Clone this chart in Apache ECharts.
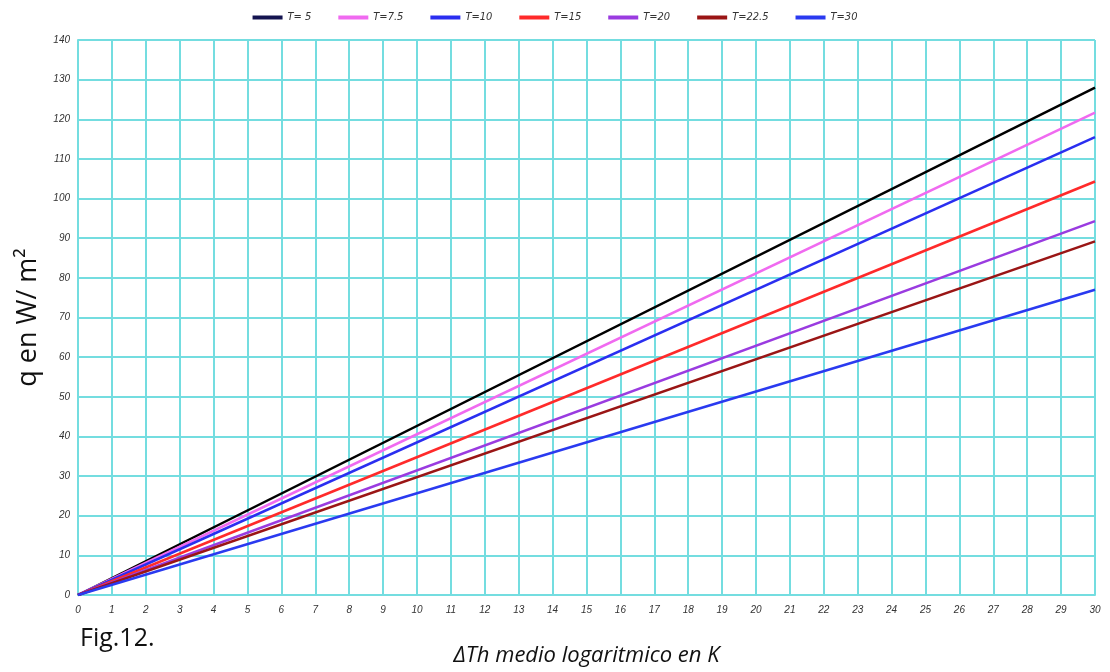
<!DOCTYPE html>
<html>
<head>
<meta charset="utf-8">
<script src="https://cdn.jsdelivr.net/npm/echarts@6/dist/echarts.min.js"></script>
<style>
  html, body { margin: 0; padding: 0; background: #fff; }
  #chart { width: 1110px; height: 672px; }
</style>
</head>
<body>
<div id="chart"></div>
<script>
// data: q at dT = 0 and dT = 30
const seriesNames = ['T= 5', 'T=7.5', 'T=10', 'T=15', 'T=20', 'T=22.5', 'T=30']
const xStart = [0, 0, 0, 0, 0, 0, 0]
const qStart = [0, 0, 0, 0, 0, 0, 0]
const xEnd = [30, 30, 30, 30, 30, 30, 30]
const qEnd = [128, 121.7, 115.5, 104.3, 94.3, 89.2, 77]
const lineColors = ['#000000', '#f06af0', '#2a2ef0', '#ff2a2a', '#9a3be0', '#9a1515', '#2a3af0']
const legendColors = ['#141450', '#f06af0', '#2a2ef0', '#ff2a2a', '#9a3be0', '#9a1515', '#2a3af0']

const gridColor = '#74dde0'

let chart = echarts.init(document.getElementById('chart'))

let series = seriesNames.map((name, i) => ({
    name: name,
    type: 'line',
    showSymbol: false,
    silent: true,
    data: [[xStart[i], qStart[i]], [xEnd[i], qEnd[i]]],
    lineStyle: { color: lineColors[i], width: 2.5 },
    itemStyle: { color: legendColors[i] }
}))

let option = {
    animation: false,
    backgroundColor: '#fff',
    legend: {
        top: 7,
        left: 'center',
        icon: 'rect',
        itemWidth: 30,
        itemHeight: 4,
        itemGap: 27,
        textStyle: { fontSize: 11, fontStyle: 'italic', color: '#333', fontFamily: 'DejaVu Sans Condensed, DejaVu Sans' },
        data: seriesNames
    },
    grid: {
        left: 78,
        right: 15,
        top: 40,
        bottom: 77
    },
    xAxis: {
        type: 'value',
        min: 0,
        max: 30,
        interval: 1,
        name: 'ΔTh medio logaritmico en K',
        nameLocation: 'middle',
        nameGap: 50,
        nameTextStyle: { fontSize: 22, fontStyle: 'italic', color: '#111', fontFamily: 'Open Sans' },
        axisLine: { show: true, lineStyle: { color: gridColor, width: 2 } },
        axisTick: { show: false },
        axisLabel: { fontSize: 10, fontStyle: 'italic', color: '#333', margin: 10 },
        splitLine: { show: true, lineStyle: { color: gridColor, width: 2 } }
    },
    yAxis: {
        type: 'value',
        min: 0,
        max: 140,
        interval: 10,
        name: 'q en W/ m²',
        nameLocation: 'middle',
        nameRotate: 90,
        nameGap: 36,
        nameTextStyle: { fontSize: 27, color: '#111', fontFamily: 'Open Sans' },
        axisLine: { show: true, lineStyle: { color: gridColor, width: 2 } },
        axisTick: { show: false },
        axisLabel: { fontSize: 10, fontStyle: 'italic', color: '#333', margin: 8 },
        splitLine: { show: true, lineStyle: { color: gridColor, width: 2 } }
    },
    graphic: [{
        type: 'text',
        left: 80,
        top: 626,
        style: { text: 'Fig.12.', fontSize: 25, fill: '#111', fontFamily: 'Open Sans' }
    }, {
        // right border of the plot
        type: 'rect',
        shape: { x: 1094, y: 40, width: 2, height: 555 },
        style: { fill: gridColor },
        z: 0
    }],
    series: series
}

chart.setOption(option)
</script>
</body>
</html>
